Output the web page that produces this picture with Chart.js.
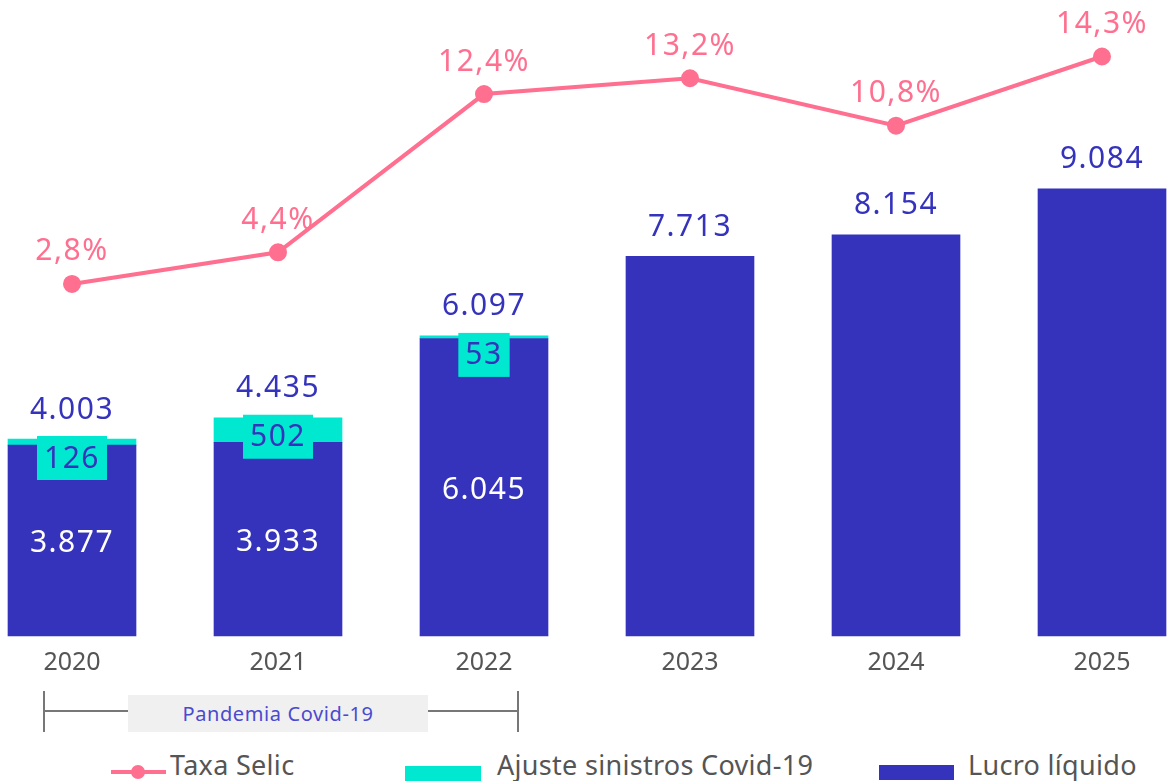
<!DOCTYPE html>
<html lang="pt-BR">
<head>
<meta charset="utf-8">
<script src="https://cdn.jsdelivr.net/npm/chart.js@4.4.1/dist/chart.umd.min.js"></script>
<style>
  body { margin: 0; background: #fff; font-family: "Noto Sans", sans-serif; }
  #wrap { position: relative; width: 1168px; height: 781px; overflow: hidden; }
  #chartBox { position: absolute; left: 0; top: 0; width: 1168px; height: 690px; }
  .brk-v { position: absolute; top: 691px; width: 1.5px; height: 41px; background: #777; }
  .brk-h { position: absolute; top: 710px; height: 1.5px; background: #777; }
  .brk-label { position: absolute; left: 128px; top: 695px; width: 300px; height: 37px; background: #f0f0f0;
    color: #4a4ad0; font-size: 20px; letter-spacing: 0.6px; line-height: 37px; text-align: center; }
  .leg { position: absolute; top: 746px; font-size: 27px; letter-spacing: 0.3px; color: #555; line-height: 38px; white-space: nowrap; }
  .sw { position: absolute; }
</style>
</head>
<body>
<div id="wrap">
  <div id="chartBox"><canvas id="chart1"></canvas></div>

  <!-- pandemia bracket -->
  <div class="brk-v" style="left:43px"></div>
  <div class="brk-v" style="left:517px"></div>
  <div class="brk-h" style="left:44px; width:474px"></div>
  <div class="brk-label">Pandemia Covid-19</div>

  <!-- legend -->
  <div class="sw" style="left:111px; top:770px; width:55px; height:4px; background:#ff6f8f"></div>
  <div class="sw" style="left:131px; top:765px; width:14px; height:14px; border-radius:50%; background:#ff6f8f"></div>
  <div class="leg" style="left:170px">Taxa Selic</div>
  <div class="sw" style="left:405px; top:766px; width:76px; height:15px; background:#00e8d0"></div>
  <div class="leg" style="left:497px">Ajuste sinistros Covid-19</div>
  <div class="sw" style="left:879px; top:765px; width:75px; height:15px; background:#3533bb"></div>
  <div class="leg" style="left:968px">Lucro líquido</div>
</div>

<script>
/* ================================
   Data
================================ */
const years = ['2020', '2021', '2022', '2023', '2024', '2025'];
const lucro = [3877, 3933, 6045, 7713, 8154, 9084];
const ajuste = [126, 502, 53, null, null, null];
const totals = [4003, 4435, 6097, 7713, 8154, 9084]; // as printed in the source
const selic = [2.8, 4.4, 12.4, 13.2, 10.8, 14.3];

const BLUE = '#3533bb';
const CYAN = '#00e8d0';
const PINK = '#ff6f8f';

const fmtNum = v => v.toLocaleString('pt-BR');
const fmtPct = v => v.toLocaleString('pt-BR', { minimumFractionDigits: 1, maximumFractionDigits: 1 }) + '%';

/* ================================
   Value labels (no datalabels plugin offline)
================================ */
const labelPlugin = {
  id: 'valueLabels',
  afterDatasetsDraw(chart) {
    const ctx = chart.ctx;
    const lucroMeta = chart.getDatasetMeta(0);
    const ajusteMeta = chart.getDatasetMeta(1);
    const lineMeta = chart.getDatasetMeta(2);
    ctx.save();
    ctx.textAlign = 'center';
    ctx.textBaseline = 'middle';
    ctx.font = '30px "Noto Sans"';
    ctx.letterSpacing = '1.5px';

    lucroMeta.data.forEach((bar, i) => {
      const adj = ajuste[i];
      const topBar = adj ? ajusteMeta.data[i] : bar;

      // total above the stack
      ctx.fillStyle = BLUE;
      ctx.fillText(fmtNum(totals[i]), bar.x, topBar.y - 29);

      if (adj) {
        // lucro inside bar
        ctx.fillStyle = '#fff';
        ctx.fillText(fmtNum(lucro[i]), bar.x, (bar.y + bar.base) / 2 + 3);

        // ajuste in a cyan tag
        const txt = fmtNum(adj);
        const w = ctx.measureText(txt).width + 14;
        const y0 = topBar.y - 3;
        ctx.fillStyle = CYAN;
        ctx.fillRect(bar.x - w / 2, y0, w, 44);
        ctx.fillStyle = BLUE;
        ctx.fillText(txt, bar.x, y0 + 23);
      }
    });

    ctx.fillStyle = PINK;
    lineMeta.data.forEach((pt, i) => {
      ctx.fillText(fmtPct(selic[i]), pt.x, pt.y - 32);
    });
    ctx.restore();
  }
};

/* ================================
   Chart
================================ */
new Chart(document.getElementById('chart1').getContext('2d'), {
  data: {
    labels: years,
    datasets: [
      {
        type: 'bar',
        label: 'Lucro líquido',
        data: lucro,
        backgroundColor: BLUE,
        stack: 's',
        barThickness: 128,
        clip: false,
        order: 2
      },
      {
        type: 'bar',
        label: 'Ajuste sinistros Covid-19',
        data: ajuste,
        backgroundColor: CYAN,
        stack: 's',
        barThickness: 128,
        clip: false,
        order: 2
      },
      {
        type: 'line',
        label: 'Taxa Selic',
        data: selic,
        yAxisID: 'y2',
        borderColor: PINK,
        backgroundColor: PINK,
        borderWidth: 4,
        pointRadius: 7,
        pointHoverRadius: 7,
        tension: 0,
        clip: false,
        order: 0
      }
    ]
  },
  options: {
    responsive: true,
    maintainAspectRatio: false,
    animation: false,
    layout: { padding: { left: 72, right: 66, top: 10, bottom: 0 } },
    plugins: {
      legend: { display: false },
      tooltip: { enabled: false }
    },
    scales: {
      x: {
        stacked: true,
        offset: false,
        grid: { display: false, drawTicks: false },
        border: { display: false },
        ticks: { color: '#555', padding: 12, font: { family: 'Noto Sans', size: 25 } },
        afterFit: s => { s.height = 54; }
      },
      y: {
        stacked: true,
        display: false,
        min: 0,
        max: 12700
      },
      y2: {
        display: false,
        min: -15,
        max: 16.6
      }
    }
  },
  plugins: [labelPlugin]
});
</script>
</body>
</html>
